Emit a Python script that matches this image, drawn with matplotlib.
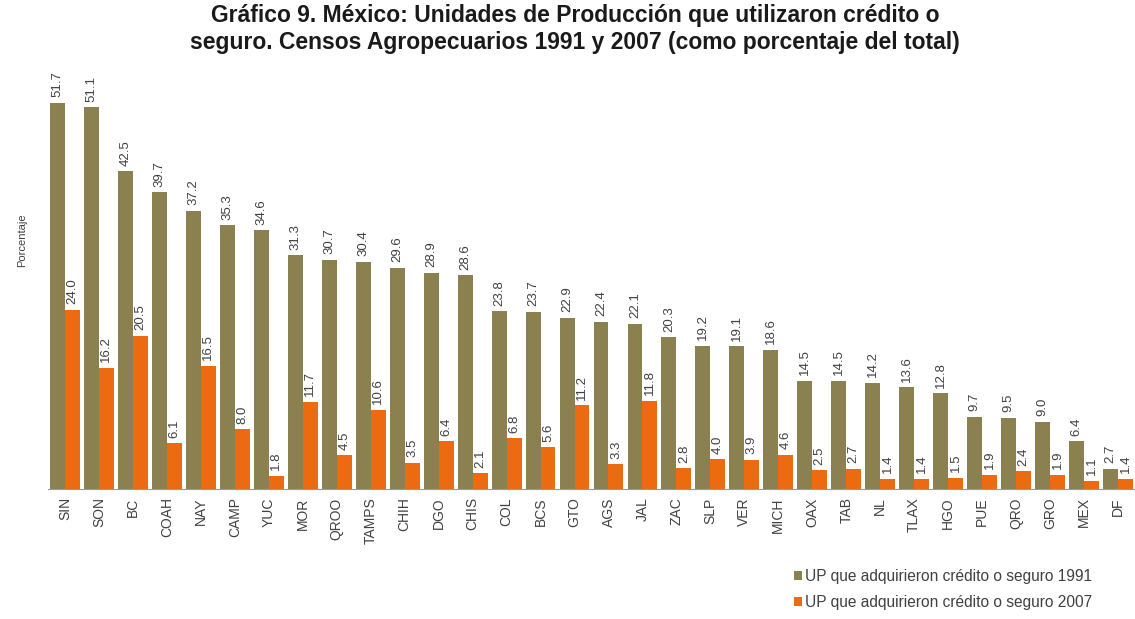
import matplotlib
matplotlib.use('Agg')
import matplotlib.pyplot as plt
import numpy as np

plt.rcParams['font.family'] = ['Liberation Sans', 'DejaVu Sans']

# Data
estados = ['SIN', 'SON', 'BC', 'COAH', 'NAY', 'CAMP', 'YUC', 'MOR', 'QROO', 'TAMPS',
           'CHIH', 'DGO', 'CHIS', 'COL', 'BCS', 'GTO', 'AGS', 'JAL', 'ZAC', 'SLP',
           'VER', 'MICH', 'OAX', 'TAB', 'NL', 'TLAX', 'HGO', 'PUE', 'QRO', 'GRO',
           'MEX', 'DF']
up_1991 = [51.7, 51.1, 42.5, 39.7, 37.2, 35.3, 34.6, 31.3, 30.7, 30.4,
           29.6, 28.9, 28.6, 23.8, 23.7, 22.9, 22.4, 22.1, 20.3, 19.2,
           19.1, 18.6, 14.5, 14.5, 14.2, 13.6, 12.8, 9.7, 9.5, 9.0,
           6.4, 2.7]
up_2007 = [24.0, 16.2, 20.5, 6.1, 16.5, 8.0, 1.8, 11.7, 4.5, 10.6,
           3.5, 6.4, 2.1, 6.8, 5.6, 11.2, 3.3, 11.8, 2.8, 4.0,
           3.9, 4.6, 2.5, 2.7, 1.4, 1.4, 1.5, 1.9, 2.4, 1.9,
           1.1, 1.4]

color_1991 = '#8a8050'
color_2007 = '#ec6a10'
text_color = '#404040'

fig = plt.figure(figsize=(11.35, 6.19), dpi=100)
ax = fig.add_axes([48 / 1135, (619 - 489) / 619, (1135 - 48) / 1135, 411 / 619])

x = np.arange(len(estados))
w = 0.44
b1 = ax.bar(x - w / 2, up_1991, w, color=color_1991, label='UP que adquirieron crédito o seguro 1991')
b2 = ax.bar(x + w / 2, up_2007, w, color=color_2007, label='UP que adquirieron crédito o seguro 2007')

# data labels, rotated
for bars, vals in [(b1, up_1991), (b2, up_2007)]:
    for rect, v in zip(bars, vals):
        ax.annotate(f'{v:.1f}', (rect.get_x() + rect.get_width() / 2, rect.get_height()),
                    xytext=(0, 4), textcoords='offset points', rotation=90,
                    ha='center', va='bottom', fontsize=9.5, color=text_color)

ax.set_xlim(-0.5, len(estados) - 0.5)
ax.set_ylim(0, 55)
ax.set_xticks(x)
ax.set_xticklabels(estados, rotation=90, fontsize=10, color=text_color)
ax.tick_params(axis='x', length=0, pad=6)
ax.set_yticks([])
for s in ['top', 'right', 'left']:
    ax.spines[s].set_visible(False)
ax.spines['bottom'].set_color('#999999')
ax.spines['bottom'].set_linewidth(0.8)

fig.text(22 / 1135, (619 - 240) / 619, 'Porcentaje', rotation=90, ha='center', va='center',
         fontsize=8, color=text_color)

fig.suptitle('Gráfico 9. México: Unidades de Producción que utilizaron crédito o\n'
             'seguro. Censos Agropecuarios 1991 y 2007 (como porcentaje del total)',
             x=575 / 1135, y=1 - 4 / 619, va='top', fontsize=16.5, fontweight='bold',
             color='#1a1a1a', linespacing=1.22)

fig.legend(handles=[b1, b2], loc='upper left', bbox_to_anchor=(791 / 1135, 1 - 566 / 619),
           frameon=False, fontsize=11.2, handlelength=0.5, handleheight=0.5,
           handletextpad=0.2, labelspacing=0.7, labelcolor=text_color,
           borderaxespad=0, borderpad=0.2)

fig.savefig('out.png', dpi=100)
